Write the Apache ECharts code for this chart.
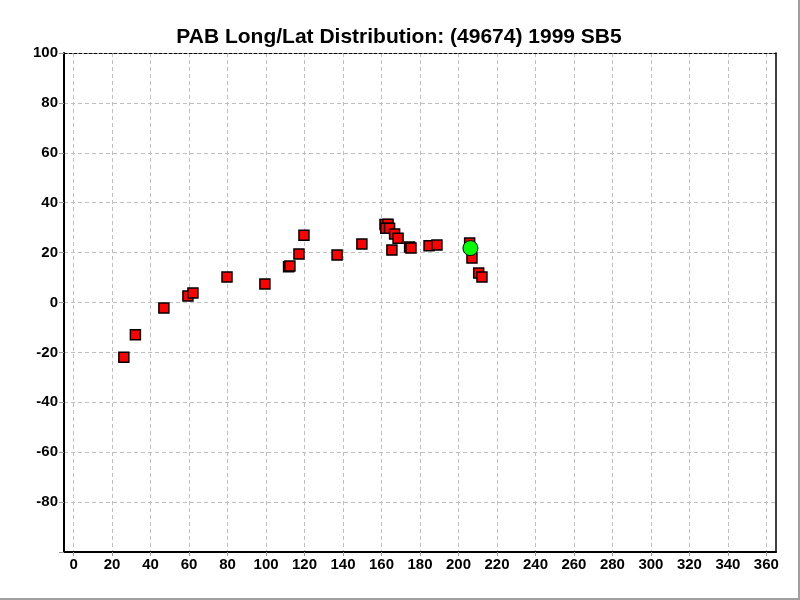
<!DOCTYPE html>
<html>
<head>
<meta charset="utf-8">
<script src="https://cdn.jsdelivr.net/npm/echarts@6/dist/echarts.min.js"></script>
<style>
html,body{margin:0;padding:0;background:#fff;}
#c{width:798px;height:598px;border-right:2px solid #a0a0a0;border-bottom:2px solid #a0a0a0;}
</style>
</head>
<body>
<div id="c"></div>
<script>
const titleText = "PAB Long/Lat Distribution: (49674) 1999 SB5";
const xTicks = [0,20,40,60,80,100,120,140,160,180,200,220,240,260,280,300,320,340,360];
const longitudes = [26.1,32.1,46.9,59.4,62.0,79.7,99.4,111.7,112.4,117.1,119.7,136.9,149.8,
  161.8,163.4,162.2,164.2,166.8,168.6,165.4,174.6,175.3,184.7,188.8,205.8,207.0,210.5,212.2];
const latitudes = [-21.9,-12.9,-2.2,2.6,3.8,10.2,7.4,14.3,14.6,19.4,27.0,19.0,23.4,
  31.3,31.4,29.8,29.8,27.5,25.8,21.0,22.2,21.8,22.7,23.0,23.8,17.8,11.8,10.2];
const currentLong = [206.2];
const currentLat = [21.8];

const obs = longitudes.map((v,i)=>[v, latitudes[i]]);
const cur = currentLong.map((v,i)=>[v, currentLat[i]]);

const chart = echarts.init(document.getElementById('c'), null, {renderer:'canvas'});
const lblFont = {fontFamily:'Liberation Sans, Arial, sans-serif', fontWeight:'bold', fontSize:15, color:'#000'};
chart.setOption({
  animation:false,
  backgroundColor:'#fff',
  title:{text:titleText,left:'center',top:22,textStyle:{fontFamily:'Liberation Sans, Arial, sans-serif',fontWeight:'bold',fontSize:21,color:'#000'}},
  grid:{left:64,right:22,top:53,bottom:46,containLabel:false},
  xAxis:[{
    type:'value',min:-5,max:365,position:'bottom',
    axisLine:{show:true,onZero:false,lineStyle:{color:'#000',width:2}},
    axisTick:{show:true,length:4,customValues:xTicks,lineStyle:{color:'#999'}},
    axisLabel:Object.assign({margin:5,customValues:xTicks},lblFont),
    splitLine:{show:true,lineStyle:{color:'#c0c0c0',type:[4,3],width:1}}
  },{
    type:'value',min:-5,max:365,position:'top',
    axisLine:{show:true,onZero:false,lineStyle:{color:'#000',width:1,type:[3,2]}},
    axisTick:{show:false},axisLabel:{show:false},splitLine:{show:false}
  }],
  yAxis:[{
    type:'value',min:-100,max:100,interval:20,position:'left',
    axisLine:{show:true,onZero:false,lineStyle:{color:'#000',width:2}},
    axisTick:{show:true,length:5,lineStyle:{color:'#999'}},
    axisLabel:Object.assign({margin:6,formatter:v=>v===-100?'':String(v)},lblFont),
    splitLine:{show:true,lineStyle:{color:'#c0c0c0',type:[4,3],width:1}}
  },{
    type:'value',min:-100,max:100,position:'right',
    axisLine:{show:true,onZero:false,lineStyle:{color:'#000',width:1.5}},
    axisTick:{show:false},axisLabel:{show:false},splitLine:{show:false}
  }],
  series:[{
    type:'scatter',data:obs,symbol:'rect',symbolSize:10,
    itemStyle:{color:'#ff0000',borderColor:'#000',borderWidth:1.5,opacity:1}
  },{
    type:'scatter',data:cur,symbol:'circle',symbolSize:15,
    itemStyle:{color:'#00ff00',borderColor:'#000',borderWidth:1,opacity:1}
  }]
});
</script>
</body>
</html>
